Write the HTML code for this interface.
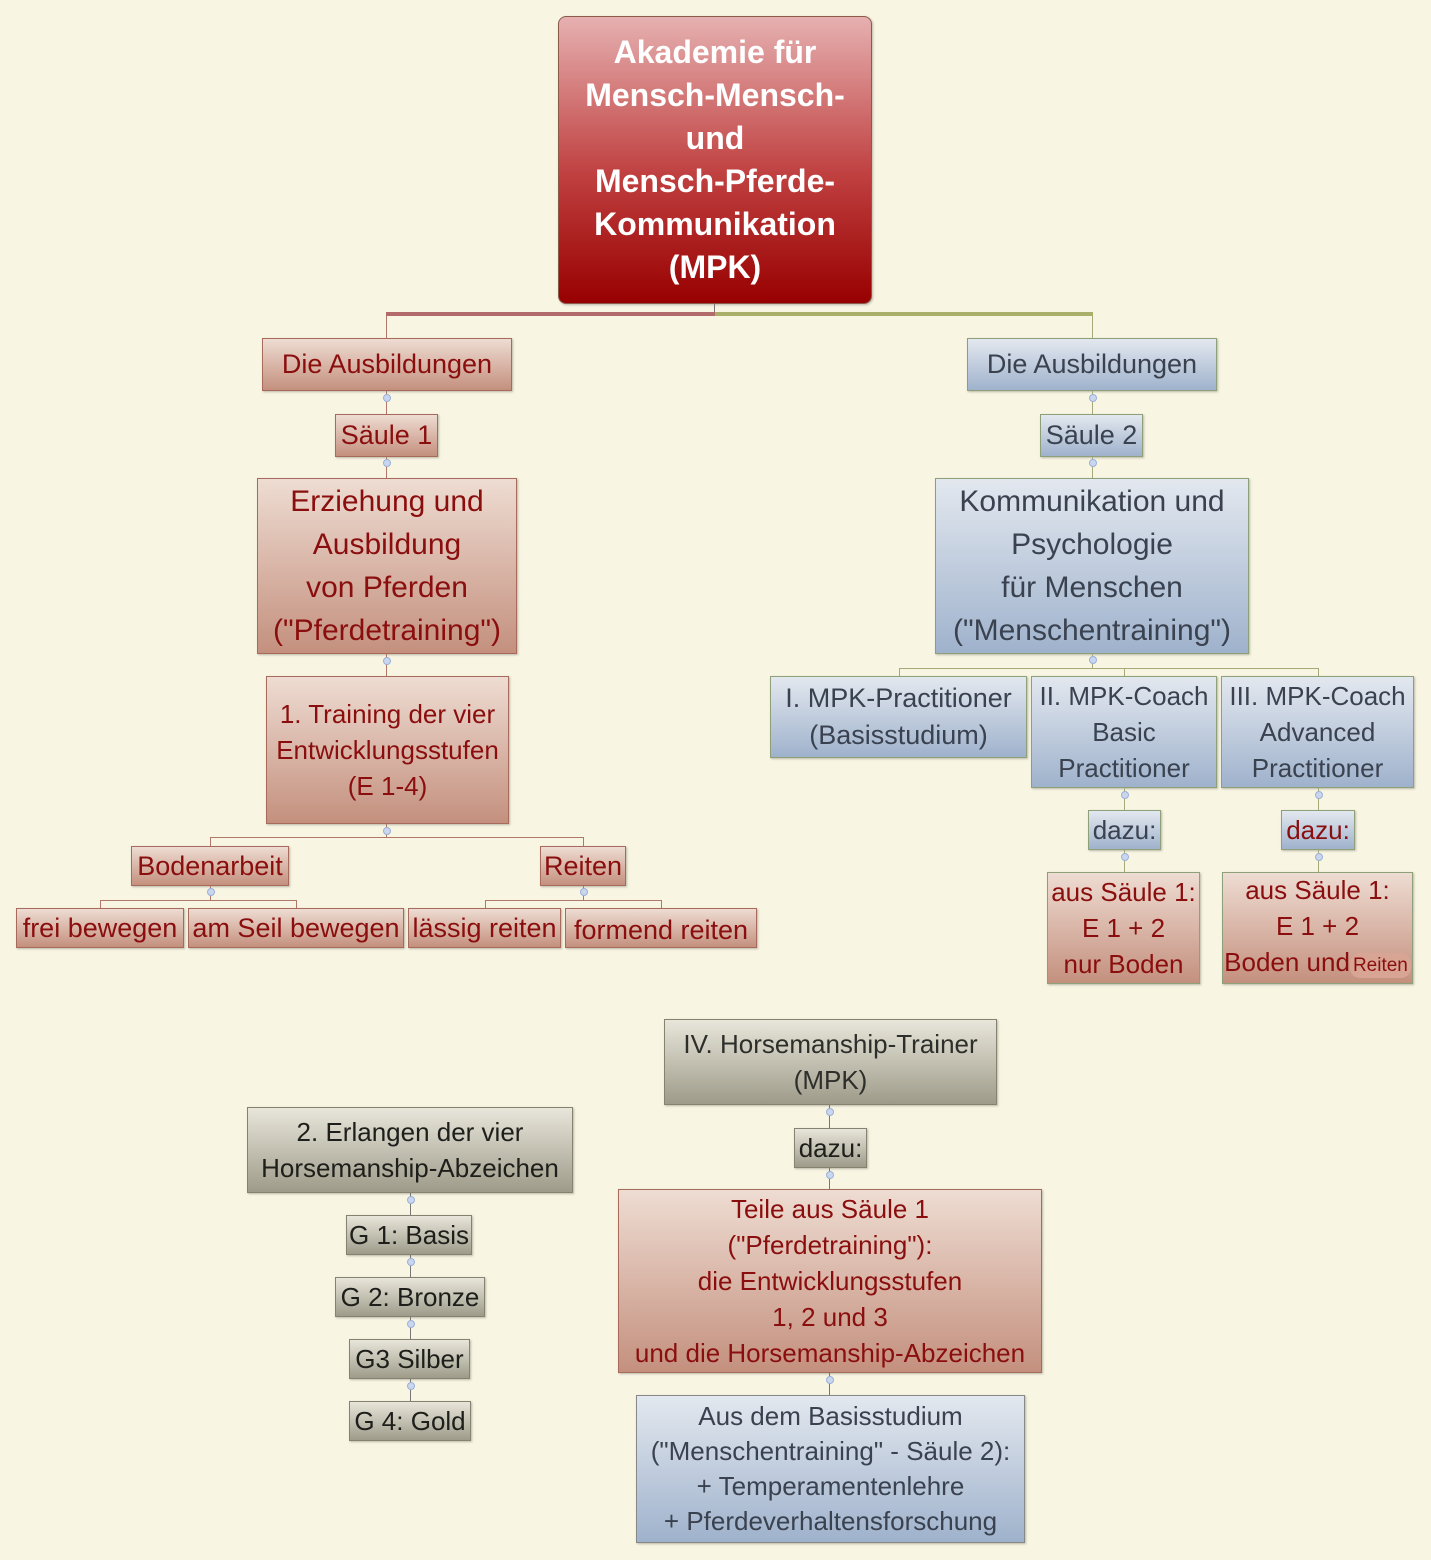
<!DOCTYPE html>
<html><head><meta charset="utf-8">
<style>
html,body{margin:0;padding:0}
body{width:1431px;height:1560px;background:#f8f5e2;position:relative;overflow:hidden;font-family:"Liberation Sans","DejaVu Sans",sans-serif}
.n{position:absolute;box-sizing:border-box;display:flex;flex-direction:column;align-items:center;justify-content:center;text-align:center;white-space:nowrap;box-shadow:1px 1px 2px rgba(0,0,0,.25)}
.r{background:linear-gradient(#eedcd2,#c4907e);border:1px solid #a86a5a;color:#8a0e0e}
.b{background:linear-gradient(#e3e8ef,#9fb2cc);border:1px solid #8ea07a;color:#3a4250}
.g{background:linear-gradient(#e8e6da,#9e9b8a);border:1px solid #85826f;color:#1e1e1a}
.l{position:absolute;background:#b07868}
.lg{position:absolute;background:#a4aa78}
.d{position:absolute;width:8px;height:8px;border-radius:50%;background:#c9d6ee;border:1px solid #9bb0d8;box-sizing:border-box}
</style></head><body>

<div class="n" style="left:558px;top:16px;width:314px;height:288px;border-radius:8px;background:linear-gradient(#e6b0b0,#c04040 55%,#980000);border:1px solid #8a5a4a;color:#fff;font-weight:bold;font-size:32px;line-height:43px">Akademie für<br>Mensch-Mensch-<br>und<br>Mensch-Pferde-<br>Kommunikation<br>(MPK)</div>

<div class="l" style="left:714px;top:304px;width:1px;height:10px;background:#777"></div>
<div class="l" style="left:386px;top:312px;width:329px;height:4px;background:#b36a6a"></div>
<div class="lg" style="left:715px;top:312px;width:378px;height:4px;background:#aab06a"></div>
<div class="l" style="left:386px;top:316px;width:1px;height:22px"></div>
<div class="lg" style="left:1092px;top:316px;width:1px;height:22px"></div>

<div class="n r" style="left:262px;top:338px;width:250px;height:53px;font-size:27px">Die Ausbildungen</div>
<div class="l" style="left:386px;top:391px;width:1px;height:23px"></div><div class="d" style="left:383px;top:394px"></div>
<div class="n r" style="left:335px;top:414px;width:103px;height:43px;font-size:27px">Säule 1</div>
<div class="l" style="left:386px;top:457px;width:1px;height:21px"></div><div class="d" style="left:383px;top:459px"></div>
<div class="n r" style="left:257px;top:478px;width:260px;height:176px;font-size:30px;line-height:43px">Erziehung und<br>Ausbildung<br>von Pferden<br>("Pferdetraining")</div>
<div class="l" style="left:386px;top:654px;width:1px;height:22px"></div><div class="d" style="left:383px;top:657px"></div>
<div class="n r" style="left:266px;top:676px;width:243px;height:148px;font-size:26px;line-height:36px">1. Training der vier<br>Entwicklungsstufen<br>(E 1-4)</div>
<div class="l" style="left:386px;top:824px;width:1px;height:13px"></div><div class="d" style="left:383px;top:827px"></div>
<div class="l" style="left:210px;top:837px;width:374px;height:1px"></div>
<div class="l" style="left:210px;top:837px;width:1px;height:9px"></div>
<div class="l" style="left:583px;top:837px;width:1px;height:9px"></div>
<div class="n r" style="left:131px;top:846px;width:158px;height:40px;font-size:27px">Bodenarbeit</div>
<div class="n r" style="left:540px;top:846px;width:86px;height:40px;font-size:27px">Reiten</div>
<div class="l" style="left:210px;top:886px;width:1px;height:14px"></div><div class="d" style="left:207px;top:888px"></div>
<div class="l" style="left:583px;top:886px;width:1px;height:14px"></div><div class="d" style="left:580px;top:888px"></div>
<div class="l" style="left:100px;top:900px;width:197px;height:1px"></div>
<div class="l" style="left:100px;top:900px;width:1px;height:8px"></div>
<div class="l" style="left:296px;top:900px;width:1px;height:8px"></div>
<div class="l" style="left:485px;top:900px;width:177px;height:1px"></div>
<div class="l" style="left:485px;top:900px;width:1px;height:8px"></div>
<div class="l" style="left:661px;top:900px;width:1px;height:8px"></div>
<div class="n r" style="left:16px;top:908px;width:168px;height:40px;font-size:27px">frei bewegen</div>
<div class="n r" style="left:188px;top:908px;width:216px;height:40px;font-size:27px">am Seil bewegen</div>
<div class="n r" style="left:408px;top:908px;width:153px;height:40px;font-size:27px">lässig reiten</div>
<div class="n r" style="left:565px;top:908px;width:192px;height:40px;font-size:27px;padding-top:4px">formend reiten</div>

<div class="n b" style="left:967px;top:338px;width:250px;height:53px;font-size:27px">Die Ausbildungen</div>
<div class="lg" style="left:1092px;top:391px;width:1px;height:23px"></div><div class="d" style="left:1089px;top:394px"></div>
<div class="n b" style="left:1040px;top:414px;width:103px;height:43px;font-size:27px">Säule 2</div>
<div class="lg" style="left:1092px;top:457px;width:1px;height:21px"></div><div class="d" style="left:1089px;top:459px"></div>
<div class="n b" style="left:935px;top:478px;width:314px;height:176px;font-size:30px;line-height:43px">Kommunikation und<br>Psychologie<br>für Menschen<br>("Menschentraining")</div>
<div class="lg" style="left:1092px;top:654px;width:1px;height:14px"></div><div class="d" style="left:1089px;top:656px"></div>
<div class="lg" style="left:899px;top:668px;width:420px;height:1px"></div>
<div class="lg" style="left:899px;top:668px;width:1px;height:8px"></div>
<div class="lg" style="left:1124px;top:668px;width:1px;height:8px"></div>
<div class="lg" style="left:1318px;top:668px;width:1px;height:8px"></div>
<div class="n b" style="left:770px;top:676px;width:257px;height:82px;font-size:27px;line-height:37px">I. MPK-Practitioner<br>(Basisstudium)</div>
<div class="n b" style="left:1031px;top:676px;width:186px;height:112px;font-size:26px;line-height:36px">II. MPK-Coach<br>Basic<br>Practitioner</div>
<div class="n b" style="left:1221px;top:676px;width:193px;height:112px;font-size:26px;line-height:36px">III. MPK-Coach<br>Advanced<br>Practitioner</div>
<div class="lg" style="left:1124px;top:788px;width:1px;height:22px"></div><div class="d" style="left:1121px;top:791px"></div>
<div class="lg" style="left:1318px;top:788px;width:1px;height:22px"></div><div class="d" style="left:1315px;top:791px"></div>
<div class="n b" style="left:1088px;top:810px;width:73px;height:40px;font-size:26px">dazu:</div>
<div class="n b" style="left:1281px;top:810px;width:74px;height:40px;font-size:26px;color:#8a0e0e">dazu:</div>
<div class="lg" style="left:1124px;top:850px;width:1px;height:22px"></div><div class="d" style="left:1121px;top:853px"></div>
<div class="lg" style="left:1318px;top:850px;width:1px;height:22px"></div><div class="d" style="left:1315px;top:853px"></div>
<div class="n r" style="left:1047px;top:872px;width:153px;height:112px;font-size:26px;line-height:36px;border-color:#8ea07a">aus Säule 1:<br>E 1 + 2<br>nur Boden</div>
<div class="n r" style="left:1222px;top:872px;width:191px;height:112px;font-size:26px;line-height:36px;border-color:#8ea07a">aus Säule 1:<br>E 1 + 2<br><span>Boden und<span style="font-size:19px;background:#d8a494;border-radius:10px;padding:2px 3px">Reiten</span></span></div>

<div class="n g" style="left:664px;top:1019px;width:333px;height:86px;font-size:26px;line-height:36px;color:#2e2e2a">IV. Horsemanship-Trainer<br>(MPK)</div>
<div class="l" style="left:829px;top:1105px;width:1px;height:23px;background:#777"></div><div class="d" style="left:826px;top:1108px"></div>
<div class="n g" style="left:794px;top:1128px;width:73px;height:40px;font-size:26px">dazu:</div>
<div class="l" style="left:829px;top:1168px;width:1px;height:21px;background:#777"></div><div class="d" style="left:826px;top:1171px"></div>
<div class="n r" style="left:618px;top:1189px;width:424px;height:184px;font-size:26px;line-height:36px">Teile aus Säule 1<br>("Pferdetraining"):<br>die Entwicklungsstufen<br>1, 2 und 3<br>und die Horsemanship-Abzeichen</div>
<div class="l" style="left:829px;top:1373px;width:1px;height:22px;background:#777"></div><div class="d" style="left:826px;top:1376px"></div>
<div class="n b" style="left:636px;top:1395px;width:389px;height:148px;font-size:26px;line-height:35px;border-color:#888">Aus dem Basisstudium<br>("Menschentraining" - Säule 2):<br>+ Temperamentenlehre<br>+ Pferdeverhaltensforschung</div>

<div class="n g" style="left:247px;top:1107px;width:326px;height:86px;font-size:26px;line-height:36px">2. Erlangen der vier<br>Horsemanship-Abzeichen</div>
<div class="l" style="left:410px;top:1193px;width:1px;height:22px;background:#777"></div><div class="d" style="left:407px;top:1196px"></div>
<div class="n g" style="left:346px;top:1215px;width:126px;height:40px;font-size:26px">G 1: Basis</div>
<div class="l" style="left:410px;top:1255px;width:1px;height:22px;background:#777"></div><div class="d" style="left:407px;top:1258px"></div>
<div class="n g" style="left:335px;top:1277px;width:150px;height:40px;font-size:26px">G 2: Bronze</div>
<div class="l" style="left:410px;top:1317px;width:1px;height:22px;background:#777"></div><div class="d" style="left:407px;top:1320px"></div>
<div class="n g" style="left:349px;top:1339px;width:121px;height:40px;font-size:26px">G3 Silber</div>
<div class="l" style="left:410px;top:1379px;width:1px;height:22px;background:#777"></div><div class="d" style="left:407px;top:1382px"></div>
<div class="n g" style="left:349px;top:1401px;width:122px;height:40px;font-size:26px">G 4: Gold</div>

</body></html>
